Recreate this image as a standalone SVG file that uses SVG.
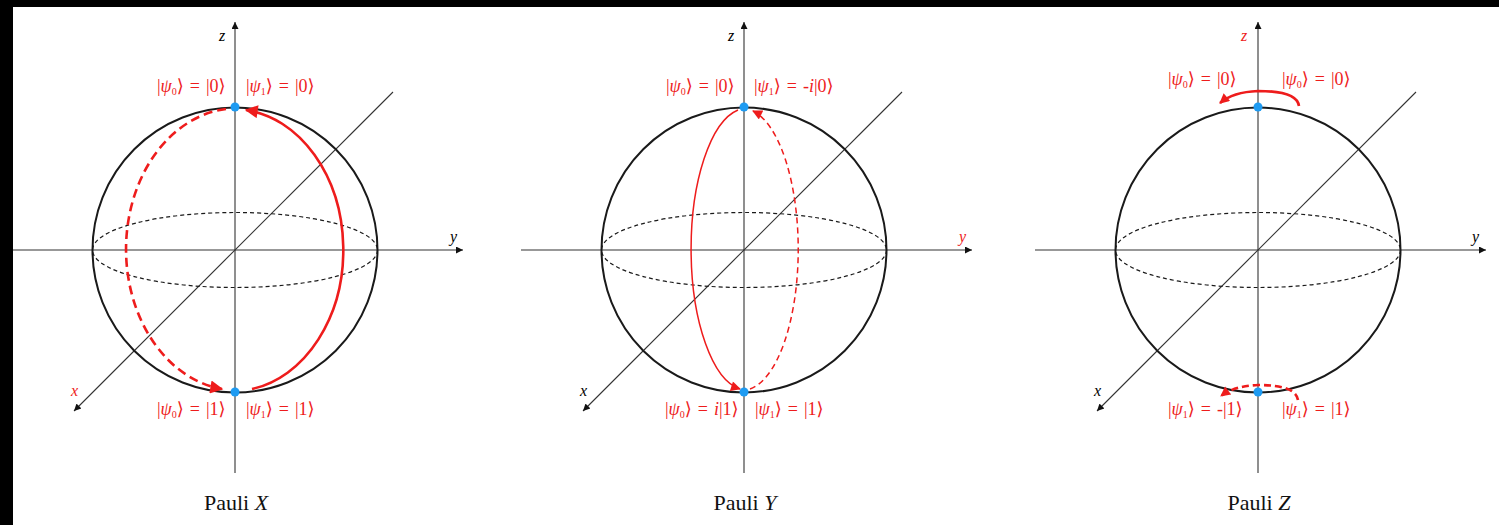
<svg xmlns="http://www.w3.org/2000/svg" width="1499" height="525" viewBox="0 0 1499 525">
<style>
.axis{stroke:#333;stroke-width:1.1;fill:none}
.sphere{stroke:#1a1a1a;stroke-width:2;fill:none}
.eq{stroke:#1a1a1a;stroke-width:1.2;fill:none;stroke-dasharray:4 3}
.red{stroke:#ee1c1c;fill:none}
.lbl{font-family:"Liberation Serif","DejaVu Serif",serif;font-size:18px;word-spacing:1.5px;fill:#ee1c1c}
.ax{font-family:"Liberation Serif","DejaVu Serif",serif;font-size:16px;font-style:italic}
.title{font-family:"Liberation Serif","DejaVu Serif",serif;font-size:22px;fill:#111;text-anchor:middle}
.dot{fill:#1e9bf2}
</style>
<defs>
<marker id="ah" viewBox="0 0 10 10" refX="10" refY="5" markerWidth="9" markerHeight="7" markerUnits="userSpaceOnUse" orient="auto"><path d="M0,0 L10,5 L0,10 z" fill="#111"/></marker>
<marker id="rbig" viewBox="0 0 10 10" refX="9" refY="5" markerWidth="17" markerHeight="13" markerUnits="userSpaceOnUse" orient="auto"><path d="M0,0 L10,5 L0,10 z" fill="#ee1c1c"/></marker>
<marker id="rsm" viewBox="0 0 10 10" refX="9" refY="5" markerWidth="13" markerHeight="10" markerUnits="userSpaceOnUse" orient="auto"><path d="M0,0 L10,5 L0,10 z" fill="#ee1c1c"/></marker>
</defs>
<rect x="0" y="0" width="1499" height="525" fill="#fff"/>
<rect x="0" y="0" width="1499" height="7" fill="#000"/>
<rect x="0" y="0" width="13" height="525" fill="#000"/>

<g id="panel-x">
<g id="x-axes">
<line class="axis" x1="235" y1="473" x2="235" y2="22" marker-end="url(#ah)"/>
<line class="axis" x1="13" y1="250" x2="463" y2="250" marker-end="url(#ah)"/>
<line class="axis" x1="393" y1="92" x2="74" y2="411" marker-end="url(#ah)"/>
<text class="ax" x="219" y="41">z</text>
<text class="ax" x="450" y="242">y</text>
<text class="ax" x="71" y="396" fill="#ee1c1c">x</text>
</g>
<g id="x-sphere">
<circle class="sphere" cx="235" cy="250" r="142.5"/>
<ellipse class="eq" cx="235" cy="250" rx="142.5" ry="37.5"/>
</g>
<g id="x-connectors">
<path class="red" stroke-width="2.6" d="M 252 389 A 110 141 0 0 0 246 110" marker-end="url(#rbig)"/>
<path class="red" stroke-width="2.6" stroke-dasharray="9 5" d="M 226 109 A 111 141 0 0 0 222 389" marker-end="url(#rbig)"/>
</g>
<g id="x-nodes">
<circle class="dot" cx="235" cy="107" r="4.5"/>
<circle class="dot" cx="235" cy="392" r="4.5"/>
<text class="lbl" x="157" y="92">|<tspan font-style="italic">ψ</tspan><tspan font-size="10" dy="3">0</tspan><tspan dy="-3">⟩ = |0⟩</tspan></text>
<text class="lbl" x="246" y="92">|<tspan font-style="italic">ψ</tspan><tspan font-size="10" dy="3">1</tspan><tspan dy="-3">⟩ = |0⟩</tspan></text>
<text class="lbl" x="157" y="415">|<tspan font-style="italic">ψ</tspan><tspan font-size="10" dy="3">0</tspan><tspan dy="-3">⟩ = |1⟩</tspan></text>
<text class="lbl" x="246" y="415">|<tspan font-style="italic">ψ</tspan><tspan font-size="10" dy="3">1</tspan><tspan dy="-3">⟩ = |1⟩</tspan></text>
</g>
<text class="title" x="236" y="510">Pauli <tspan font-style="italic">X</tspan></text>
</g>

<g id="panel-y">
<g id="y-axes">
<line class="axis" x1="744" y1="473" x2="744" y2="22" marker-end="url(#ah)"/>
<line class="axis" x1="521" y1="250" x2="972" y2="250" marker-end="url(#ah)"/>
<line class="axis" x1="902" y1="92" x2="583" y2="411" marker-end="url(#ah)"/>
<text class="ax" x="728" y="41">z</text>
<text class="ax" x="959" y="242" fill="#ee1c1c">y</text>
<text class="ax" x="580" y="396">x</text>
</g>
<g id="y-sphere">
<circle class="sphere" cx="744" cy="250" r="142.5"/>
<ellipse class="eq" cx="744" cy="250" rx="142.5" ry="37.5"/>
</g>
<g id="y-connectors">
<path class="red" stroke-width="1.5" d="M 738 110 A 56 141 0 0 0 740 389" marker-end="url(#rsm)"/>
<path class="red" stroke-width="1.5" stroke-dasharray="6 4" d="M 750 389 A 56 141 0 0 0 753 111" marker-end="url(#rsm)"/>
</g>
<g id="y-nodes">
<circle class="dot" cx="744" cy="107" r="4.5"/>
<circle class="dot" cx="744" cy="392" r="4.5"/>
<text class="lbl" x="666" y="92">|<tspan font-style="italic">ψ</tspan><tspan font-size="10" dy="3">0</tspan><tspan dy="-3">⟩ = |0⟩</tspan></text>
<text class="lbl" x="754" y="92">|<tspan font-style="italic">ψ</tspan><tspan font-size="10" dy="3">1</tspan><tspan dy="-3">⟩ = -<tspan font-style="italic">i</tspan>|0⟩</tspan></text>
<text class="lbl" x="665" y="415">|<tspan font-style="italic">ψ</tspan><tspan font-size="10" dy="3">0</tspan><tspan dy="-3">⟩ = <tspan font-style="italic">i</tspan>|1⟩</tspan></text>
<text class="lbl" x="755" y="415">|<tspan font-style="italic">ψ</tspan><tspan font-size="10" dy="3">1</tspan><tspan dy="-3">⟩ = |1⟩</tspan></text>
</g>
<text class="title" x="745" y="510">Pauli <tspan font-style="italic">Y</tspan></text>
</g>

<g id="panel-z">
<g id="z-axes">
<line class="axis" x1="1258" y1="473" x2="1258" y2="22" marker-end="url(#ah)"/>
<line class="axis" x1="1035" y1="250" x2="1486" y2="250" marker-end="url(#ah)"/>
<line class="axis" x1="1416" y1="92" x2="1097" y2="411" marker-end="url(#ah)"/>
<text class="ax" x="1241" y="41" fill="#ee1c1c">z</text>
<text class="ax" x="1472" y="242">y</text>
<text class="ax" x="1094" y="396">x</text>
</g>
<g id="z-sphere">
<circle class="sphere" cx="1258" cy="250" r="142.5"/>
<ellipse class="eq" cx="1258" cy="250" rx="142.5" ry="37.5"/>
</g>
<g id="z-connectors">
<path class="red" stroke-width="2.6" d="M 1299 106 Q 1297 91 1258 91 Q 1233 92 1220 103" marker-end="url(#rsm)"/>
<path class="red" stroke-width="2.6" stroke-dasharray="7 4" d="M 1298 400 Q 1296 385 1258 385 Q 1234 386 1221 396" marker-end="url(#rsm)"/>
</g>
<g id="z-nodes">
<circle class="dot" cx="1258" cy="107" r="4.5"/>
<circle class="dot" cx="1258" cy="392" r="4.5"/>
<text class="lbl" x="1168" y="85">|<tspan font-style="italic">ψ</tspan><tspan font-size="10" dy="3">0</tspan><tspan dy="-3">⟩ = |0⟩</tspan></text>
<text class="lbl" x="1282" y="85">|<tspan font-style="italic">ψ</tspan><tspan font-size="10" dy="3">0</tspan><tspan dy="-3">⟩ = |0⟩</tspan></text>
<text class="lbl" x="1168" y="415">|<tspan font-style="italic">ψ</tspan><tspan font-size="10" dy="3">1</tspan><tspan dy="-3">⟩ = -|1⟩</tspan></text>
<text class="lbl" x="1282" y="415">|<tspan font-style="italic">ψ</tspan><tspan font-size="10" dy="3">1</tspan><tspan dy="-3">⟩ = |1⟩</tspan></text>
</g>
<text class="title" x="1259" y="510">Pauli <tspan font-style="italic">Z</tspan></text>
</g>
</svg>
